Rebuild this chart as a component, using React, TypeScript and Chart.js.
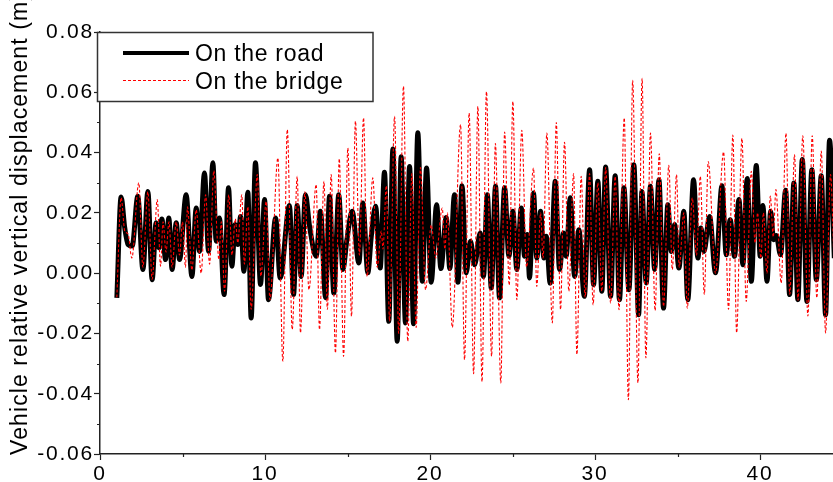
import React, { useEffect, useRef } from 'react';
import { Chart, registerables } from 'chart.js';

Chart.register(...registerables);

const FONT = '"Liberation Sans", Arial, sans-serif';

// Time (s) and displacement (m) at the turning points of each curve
const roadT = [
  1.02, 1.28, 1.5, 1.7, 1.95, 2.29, 2.6, 2.9, 3.16, 3.4, 3.57, 3.75, 3.97, 4.17, 4.37, 4.62, 4.82,
  5.22, 5.57, 5.83, 6.03, 6.33, 6.58, 6.84, 7.04, 7.24, 7.52, 7.79, 7.99, 8.19, 8.35, 8.52, 8.72,
  8.96, 9.16, 9.42, 9.73, 9.97, 10.21, 10.64, 10.92, 11.48, 11.73, 11.95, 12.19, 12.45, 12.7, 13.1,
  13.36, 13.67, 13.91, 14.17, 14.47, 14.72, 14.96, 15.28, 15.69, 15.93, 16.23, 16.44, 16.7, 16.98,
  17.24, 17.5, 17.75, 18.01, 18.25, 18.51, 18.76, 19.0, 19.26, 19.53, 19.79, 20.07, 20.4, 20.66,
  20.98, 21.2, 21.48, 21.69, 21.94, 22.19, 22.45, 22.7, 23.04, 23.24, 23.47, 23.71, 23.97, 24.21,
  24.52, 24.78, 25.02, 25.26, 25.53, 25.73, 25.89, 26.03, 26.27, 26.47, 26.7, 26.9, 27.04, 27.28,
  27.59, 27.85, 28.09, 28.25, 28.5, 28.76, 29.02, 29.35, 29.67, 29.91, 30.17, 30.41, 30.64, 30.94,
  31.22, 31.48, 31.75, 32.05, 32.35, 32.64, 32.84, 33.1, 33.36, 33.61, 33.87, 34.15, 34.41, 34.62,
  34.82, 35.08, 35.38, 35.62, 35.97, 36.23, 36.42, 36.6, 36.94, 37.3, 37.69, 37.95, 38.19, 38.45,
  38.72, 38.96, 39.22, 39.47, 39.77, 40.01, 40.17, 40.42, 40.64, 40.82, 40.98, 41.24, 41.55, 41.79,
  42.05, 42.29, 42.56, 42.84, 43.14, 43.41, 43.71, 43.97, 44.21, 44.5,
];
const roadV = [
  -0.0082, 0.0253, 0.015, 0.0095, 0.009, 0.0255, 0.0012, 0.0271, -0.0022, 0.0167, 0.0084, 0.018, 0.0045, 0.0183, 0.0012, 0.0167, 0.0045,
  0.026, -0.0011, 0.0216, 0.0072, 0.0332, 0.0072, 0.0366, 0.0106, 0.0183, -0.0071, 0.0283, 0.0023, 0.0161, 0.0095, 0.0188, 0.0006,
  0.0268, -0.0149, 0.0366, -0.0038, 0.0244, -0.0088, 0.0183, -0.0016, 0.0224, -0.0071, 0.0224, -0.0011, 0.026, 0.0155, 0.0056,
  0.0205, -0.0082, 0.0255, -0.0066, 0.026, 0.0012, 0.011, 0.0205, 0.0034, 0.0233, 0.0001, 0.0122, 0.0222, 0.0017,
  0.0335, -0.016, 0.0412, -0.0226, 0.0386, -0.0165, 0.0354, -0.0168, 0.0466, -0.0027, 0.0349, -0.003, 0.0227, 0.0015,
  0.0185, 0.0015, 0.026, -0.003, 0.029, 0.0001, 0.0106, 0.0028, 0.0133, -0.0011, 0.026, -0.0049, 0.0288, -0.0082,
  0.0283, 0.0056, 0.0205, 0.0012, 0.0216, 0.0056, 0.0128, -0.0016, 0.0266, 0.005, 0.0205, 0.005, 0.0122, -0.0033,
  0.0305, 0.0012, 0.0133, 0.0056, 0.025, -0.0011, 0.0144, -0.0077, 0.0343, -0.0038, 0.0305, -0.006, 0.0352, -0.0077,
  0.0323, -0.0088, 0.0283, -0.0055, 0.036, -0.0138, 0.0271, -0.0033, 0.0288, 0.0012, 0.031, -0.0116, 0.0227, 0.0072,
  0.0161, 0.0017, 0.0205, -0.0088, 0.031, 0.005, 0.015, 0.0072, 0.0188, 0.0001, 0.029, 0.0061, 0.0177, 0.0056,
  0.0244, 0.0028, 0.0314, -0.0027, 0.0357, 0.0056, 0.0224, -0.0027, 0.0205, 0.0111, 0.0125, 0.0061, 0.0275, -0.0071,
  0.0299, -0.0088, 0.0377, -0.0094, 0.0343, -0.0022, 0.0323, -0.0138, 0.0441, 0.005,
];

const bridgeT = [
  1.02, 1.28, 1.5, 1.7, 1.93, 2.35, 2.6, 2.9, 3.16, 3.47, 3.67, 3.82, 4.0, 4.18, 4.37, 4.62, 4.82,
  5.0, 5.18, 5.3, 5.57, 5.83, 6.13, 6.4, 6.64, 6.9, 7.1, 7.2, 7.35, 7.55, 7.8, 8.0, 8.2, 8.35, 8.59,
  8.75, 8.96, 9.16, 9.53, 9.75, 10.07, 10.3, 10.78, 11.08, 11.35, 11.65, 11.95, 12.15, 12.42, 12.66,
  13.1, 13.3, 13.57, 13.78, 14.01, 14.27, 14.5, 14.76, 15.02, 15.24, 15.48, 15.72, 15.97, 16.19,
  16.53, 16.8, 17.05, 17.15, 17.35, 17.55, 17.85, 18.1, 18.39, 18.65, 18.9, 19.16, 19.42, 19.73,
  20.07, 20.35, 20.74, 20.9, 21.05, 21.35, 21.85, 22.09, 22.37, 22.64, 22.9, 23.15, 23.42, 23.73,
  23.96, 24.29, 24.52, 24.8, 25.02, 25.26, 25.56, 25.85, 26.27, 26.47, 26.7, 26.85, 27.08, 27.41,
  27.65, 27.91, 28.15, 28.41, 28.7, 28.9, 29.16, 29.4, 29.67, 29.88, 30.17, 30.41, 30.64, 30.94,
  31.22, 31.45, 31.77, 32.02, 32.28, 32.6, 32.85, 33.08, 33.36, 33.64, 33.89, 34.15, 34.47, 34.68,
  34.94, 35.1, 35.38, 35.59, 35.89, 36.15, 36.38, 36.62, 36.86, 37.3, 37.79, 38.09, 38.35, 38.58,
  38.9, 39.16, 39.47, 39.7, 39.85, 40.05, 40.2, 40.42, 40.62, 40.8, 40.96, 41.28, 41.57, 41.8,
  42.09, 42.3, 42.59, 42.9, 43.16, 43.44, 43.71, 43.97, 44.27, 44.5,
];
const bridgeV = [
  -0.008, 0.025, 0.014, 0.013, 0.005, 0.03, 0.002, 0.027, -0.002, 0.0244, 0.0023, 0.017, 0.007, 0.017, 0.002, 0.017, 0.006,
  0.017, 0.002, 0.022, 0.001, 0.021, 0.0, 0.026, 0.003, 0.034, 0.012, 0.0045, 0.017, -0.006, 0.026, 0.006, 0.018, 0.01, 0.026,
  0.003, 0.022, -0.012, 0.0327, -0.001, 0.0238, -0.0088, 0.0382, -0.0293, 0.0476, -0.0187, 0.0321, -0.0198, 0.027, -0.0055,
  0.0294, -0.0187, 0.0305, -0.012, 0.0327, -0.0265, 0.038, -0.0276, 0.0415, -0.0143, 0.0504, 0.006, 0.0515, -0.0011,
  0.0316, 0.002, 0.014, 0.008, 0.029, -0.016, 0.052, -0.02, 0.062, -0.0226, 0.033, -0.018, 0.035, -0.0055,
  0.016, 0.005, 0.0216, 0.008, 0.02, -0.018, 0.0493, -0.0287, 0.0531, -0.0334, 0.0553, -0.036, 0.0602, -0.0276,
  0.043, -0.0364, 0.0468, -0.004, 0.057, -0.0088, 0.0474, 0.002, 0.0349, -0.0044, 0.02, 0.005, 0.0465, -0.0165,
  0.05, -0.0121, 0.0434, -0.006, 0.033, -0.027, 0.0321, -0.008, 0.033, -0.0105, 0.03, -0.006, 0.035, -0.0099,
  0.032, -0.0121, 0.0515, -0.042, 0.064, -0.0364, 0.0646, -0.0281, 0.0465, -0.0124, 0.0396, -0.011, 0.0358, 0.0012,
  0.0327, 0.002, 0.02, -0.0116, 0.025, 0.006, 0.0321, -0.0071, 0.037, 0.0, 0.0402, -0.012, 0.0458, -0.0198,
  0.0447, -0.0094, 0.0338, 0.01, 0.02, 0.005, 0.02, 0.0, 0.0256, 0.012, 0.0277, -0.0033, 0.0464, -0.007,
  0.0393, -0.009, 0.0456, -0.0142, 0.0456, -0.0082, 0.0405, -0.0198, 0.0327, 0.0,
];

const seriesNames = ['On the road', 'On the bridge'];
const yTitle = 'Vehicle relative vertical displacement (m)';
const xMinorTicks = [5, 15, 25, 35];
const yMinorTicks = [-0.05, -0.03, -0.01, 0.01, 0.03, 0.05, 0.07];

const decor = {
  id: 'decor',
  beforeDraw(chart: any) {
    (chart.ctx as any).letterSpacing = '1.8px';
  },
  afterDraw(chart: any) {
    const ctx = chart.ctx as any;
    const xs = chart.scales.x;
    const ys = chart.scales.y;
    const ca = chart.chartArea;
    ctx.save();
    // minor ticks
    ctx.strokeStyle = '#222';
    ctx.lineWidth = 1.2;
    ctx.beginPath();
    for (const v of yMinorTicks) {
      const py = Math.round(ys.getPixelForValue(v)) + 0.5;
      ctx.moveTo(ca.left - 3, py);
      ctx.lineTo(ca.left, py);
    }
    for (const v of xMinorTicks) {
      const px = Math.round(xs.getPixelForValue(v)) + 0.5;
      ctx.moveTo(px, ca.bottom);
      ctx.lineTo(px, ca.bottom + 3);
    }
    ctx.stroke();

    // legend
    ctx.fillStyle = '#fff';
    ctx.fillRect(97, 32, 276, 70);
    ctx.strokeStyle = '#333';
    ctx.lineWidth = 1.5;
    ctx.strokeRect(97.5, 32.5, 275.5, 69);
    ctx.setLineDash([]);
    ctx.strokeStyle = '#000';
    ctx.lineWidth = 4;
    ctx.beginPath();
    ctx.moveTo(123, 53);
    ctx.lineTo(189, 53);
    ctx.stroke();
    ctx.strokeStyle = '#ff0000';
    ctx.lineWidth = 1;
    ctx.setLineDash([3, 2]);
    ctx.beginPath();
    ctx.moveTo(123, 80.5);
    ctx.lineTo(189, 80.5);
    ctx.stroke();
    ctx.setLineDash([]);
    ctx.fillStyle = '#000';
    ctx.letterSpacing = '0.7px';
    ctx.font = `23px ${FONT}`;
    ctx.textAlign = 'left';
    ctx.textBaseline = 'alphabetic';
    ctx.fillText(seriesNames[0], 195, 61);
    ctx.fillText(seriesNames[1], 195, 88.5);

    // y axis title
    ctx.letterSpacing = '1.1px';
    ctx.translate(21, 455);
    ctx.rotate(-Math.PI / 2);
    ctx.textBaseline = 'middle';
    ctx.fillText(yTitle, 0, 0);
    ctx.restore();
  },
};

export default function App() {
  const ref = useRef<HTMLCanvasElement | null>(null);
  useEffect(() => {
    if (!ref.current) return;
    const road = roadT.map((t, i) => ({ x: t, y: roadV[i] }));
    const bridge = bridgeT.map((t, i) => ({ x: t, y: bridgeV[i] }));
    const chart = new Chart(ref.current, {
      type: 'line',
      data: {
        datasets: [
          {
            label: seriesNames[0],
            data: road,
            borderColor: '#000',
            borderWidth: 5,
            pointRadius: 0,
            cubicInterpolationMode: 'monotone',
            order: 2,
          },
          {
            label: seriesNames[1],
            data: bridge,
            borderColor: '#ff0000',
            borderWidth: 1.1,
            borderDash: [3, 2],
            pointRadius: 0,
            cubicInterpolationMode: 'monotone',
            order: 1,
          },
        ],
      },
      options: {
        animation: false,
        responsive: false,
        devicePixelRatio: 1,
        layout: { padding: { top: 32, left: 0, right: 0, bottom: 0 } },
        plugins: { legend: { display: false }, tooltip: { enabled: false } },
        scales: {
          x: {
            type: 'linear',
            min: 0,
            max: 44.42,
            border: { display: true, color: '#222', width: 1.5 },
            grid: { drawOnChartArea: false, drawTicks: true, tickLength: 6, color: '#222', tickWidth: 1.2 },
            ticks: {
              stepSize: 10,
              includeBounds: false,
              autoSkip: false,
              maxRotation: 0,
              color: '#000',
              padding: 2,
              font: { family: FONT, size: 21 },
            },
            afterFit(s: any) {
              s.height = 28;
            },
          },
          y: {
            type: 'linear',
            min: -0.06,
            max: 0.08,
            border: { display: true, color: '#222', width: 1.5 },
            grid: { drawOnChartArea: false, drawTicks: true, tickLength: 6, color: '#222', tickWidth: 1.2 },
            ticks: {
              stepSize: 0.02,
              color: '#000',
              padding: 0,
              font: { family: FONT, size: 21 },
              callback: (v: any) => (Math.abs(Number(v)) < 1e-9 ? '0.00' : Number(v).toFixed(2)),
            },
            afterFit(s: any) {
              s.width = 100;
            },
          },
        },
      },
      plugins: [decor],
    } as any);
    return () => chart.destroy();
  }, []);

  return (
    <div
      style={{
        position: 'fixed',
        left: 0,
        top: 0,
        width: 833,
        height: 482,
        overflow: 'hidden',
        background: '#fff',
      }}
    >
      <canvas ref={ref} width={833} height={482} style={{ display: 'block', width: 833, height: 482 }} />
    </div>
  );
}
